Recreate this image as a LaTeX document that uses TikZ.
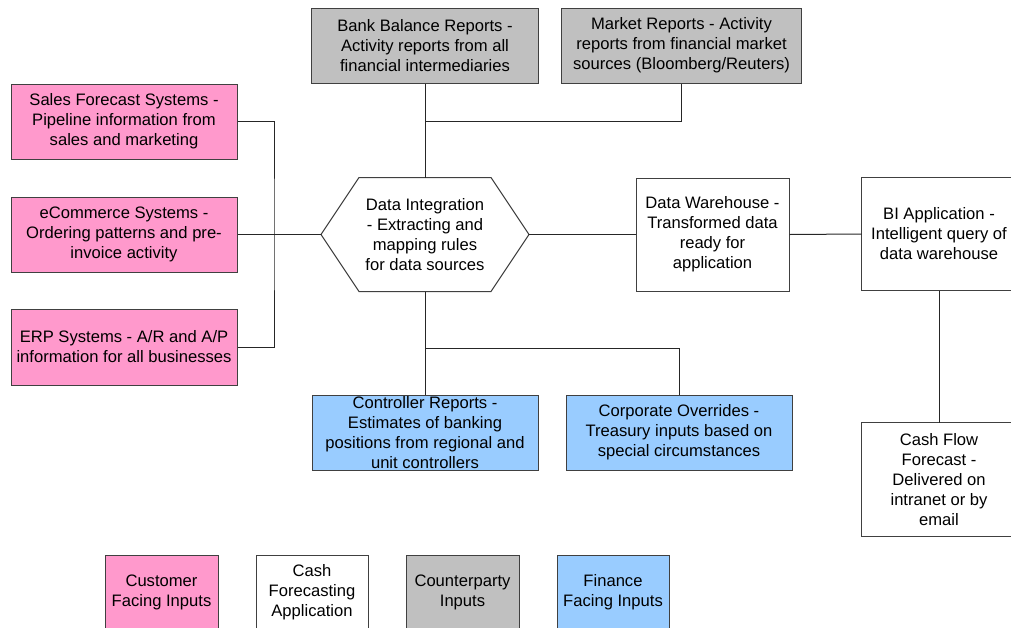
\documentclass[tikz,border=0pt]{standalone}
\usepackage{fontspec}
\setmainfont{Liberation Sans}
\definecolor{cpink}{HTML}{FF99CC}
\definecolor{cgray}{HTML}{C0C0C0}
\definecolor{cblue}{HTML}{99CCFF}
\definecolor{cedge}{HTML}{404040}
\begin{document}
\begin{tikzpicture}[x=1pt,y=-1pt,
  box/.style={draw=cedge, line width=1pt, inner sep=0pt, align=center,
    font=\fontsize{16.6}{20}\selectfont},
  openbox/.style={draw=cedge, line width=1pt},
  link/.style={draw=black!85, line width=1pt}]
\useasboundingbox (0,0) rectangle (1011,627);
\clip (0,0) rectangle (1011,627);
% top inputs
\node[box, fill=cgray, minimum width=227, minimum height=75] (bank) at (425,45.5)
  {Bank Balance Reports -\\Activity reports from all\\financial intermediaries};
\node[box, fill=cgray, minimum width=240, minimum height=75] (market) at (681.5,45.5)
  {Market Reports - Activity\\reports from financial market\\sources (Bloomberg/Reuters)};
% left inputs
\node[box, fill=cpink, minimum width=226, minimum height=75] (sales) at (124,121.5)
  {Sales Forecast Systems -\\Pipeline information from\\sales and marketing};
\node[box, fill=cpink, minimum width=226, minimum height=75] (ecom) at (124,234.5)
  {eCommerce Systems -\\Ordering patterns and pre-\\invoice activity};
\node[box, fill=cpink, minimum width=226, minimum height=76] (erp) at (124,347)
  {ERP Systems - A/R and A/P\\information for all businesses};
% hexagon
\node[box, draw=none, minimum width=207, minimum height=113] (hex) at (425,234.5)
  {Data Integration\\- Extracting and\\mapping rules\\for data sources};
\draw[draw=cedge, line width=1pt] (hex.west) -- ([xshift=38pt]hex.north west)
  -- ([xshift=-38pt]hex.north east) -- (hex.east)
  -- ([xshift=-38pt]hex.south east) -- ([xshift=38pt]hex.south west) -- cycle;
% right side
\node[box, fill=white, minimum width=153, minimum height=113] (dw) at (712.5,234.5)
  {Data Warehouse -\\Transformed data\\ready for\\application};
\node[box, draw=none, minimum width=154, minimum height=112] (bi) at (939,234)
  {BI Application -\\Intelligent query of\\data warehouse};
\draw[openbox] ([xshift=30pt]bi.north east) -- (bi.north west) -- (bi.south west)
  -- ([xshift=30pt]bi.south east);
\node[box, draw=none, minimum width=154, minimum height=113] (cf) at (939,479.5)
  {Cash Flow\\Forecast -\\Delivered on\\intranet or by\\email};
\draw[openbox] ([xshift=30pt]cf.north east) -- (cf.north west) -- (cf.south west)
  -- ([xshift=30pt]cf.south east);
% bottom inputs
\node[box, fill=cblue, minimum width=226, minimum height=75] (ctrl) at (425,432.5)
  {Controller Reports -\\Estimates of banking\\positions from regional and\\unit controllers};
\node[box, fill=cblue, minimum width=226, minimum height=75] (corp) at (679,432.5)
  {Corporate Overrides -\\Treasury inputs based on\\special circumstances};
% legend
\node[box, fill=cpink, minimum width=113, minimum height=74] (lcust) at (161.5,592)
  {Customer\\Facing Inputs};
\node[box, fill=white, minimum width=112, minimum height=74] (lcash) at (312,592)
  {Cash\\Forecasting\\Application};
\node[box, fill=cgray, minimum width=113, minimum height=74] (lcpty) at (462.5,592)
  {Counterparty\\Inputs};
\node[box, fill=cblue, minimum width=112, minimum height=74] (lfin) at (613,592)
  {Finance\\Facing Inputs};
% junctions
\coordinate (jtop) at (425,121.5);
\coordinate (jleft) at (274,234.5);
\coordinate (jbot) at (425,348);
% connectors
\draw[link] (bank.south) -- (hex.north);
\draw[link] (market.south) |- (jtop);
\draw[link] (sales.east) -| (jleft) |- (erp.east);
\draw[link] (ecom.east) -- (hex.west);
\draw[link] (hex.south) -- (ctrl.north);
\draw[link] (jbot) -| (corp.north);
\draw[link] (hex.east) -- (dw.west);
\draw[link] (dw.east) -- (bi.west);
\draw[link] (bi.south) -- (cf.north);
\end{tikzpicture}
\end{document}
